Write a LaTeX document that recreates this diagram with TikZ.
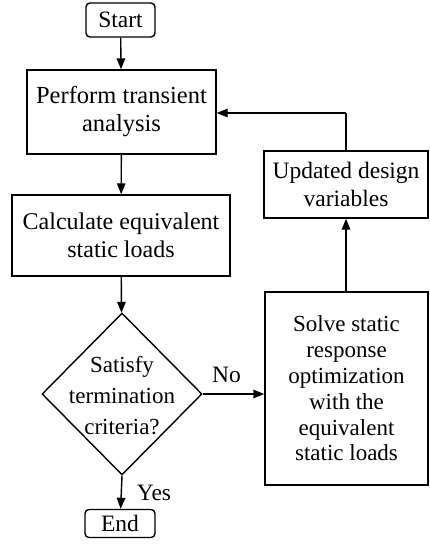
\documentclass[tikz,border=0pt]{standalone}
\usepackage{fontspec}
\setmainfont{Liberation Serif}
\usetikzlibrary{shapes.geometric,arrows.meta}
\begin{document}
\begin{tikzpicture}[x=1pt,y=-1pt,
  every node/.style={font=\fontsize{23.5}{28}\selectfont, inner sep=0pt},
  box/.style={draw, line width=1.4pt, align=center},
  term/.style={draw, line width=1.4pt, rounded corners=4pt},
  conn/.style={line width=1.4pt, -{Triangle[length=11pt,width=8.5pt]}},
  line/.style={line width=1.4pt}]
\path[use as bounding box] (0,0) rectangle (429,545);
\node[term, minimum width=69pt, minimum height=34pt] (start) at (120.5,20) {Start};
\node[box, minimum width=189pt, minimum height=84pt, font=\fontsize{24.5}{28}\selectfont] (perf) at (121.5,112) {Perform transient\\analysis};
\node[box, minimum width=218pt, minimum height=81pt, font=\fontsize{24}{28}\selectfont] (calc) at (121,235.5) {Calculate equivalent\\static loads};
\node[draw, diamond, line width=1.4pt, minimum width=160pt, minimum height=162pt] (dec) at (122,394) {};
\node[align=center, font=\fontsize{23}{31}\selectfont] (dect) at (122,396) {Satisfy\\termination\\criteria?};
\node[box, minimum width=163pt, minimum height=193pt, font=\fontsize{23}{25.8}\selectfont] (solve) at (346.5,388.5) {Solve static\\response\\optimization\\with the\\equivalent\\static loads};
\node[box, minimum width=164pt, minimum height=67pt] (upd) at (346,184.5) {Updated design\\variables};
\node[term, minimum width=70pt, minimum height=28pt] (end) at (120,523.5) {End};
\node (no) at (226.5,375) {No};
\node (yes) at (154,492.5) {Yes};
\coordinate (turn) at (upd.north |- 0,113);
\draw[conn] (start) -- (perf);
\draw[conn] (perf) -- (calc);
\draw[conn] (calc) -- (dec);
\draw[conn] (dec.south) -- (end);
\draw[conn] (dec.east) -- (dec.east -| solve.west);
\draw[conn] (solve.north -| upd.south) -- (upd.south);
\draw[line] (upd.north) -- (turn);
\draw[conn] (turn) -- (turn -| perf.east);
\end{tikzpicture}
\end{document}
